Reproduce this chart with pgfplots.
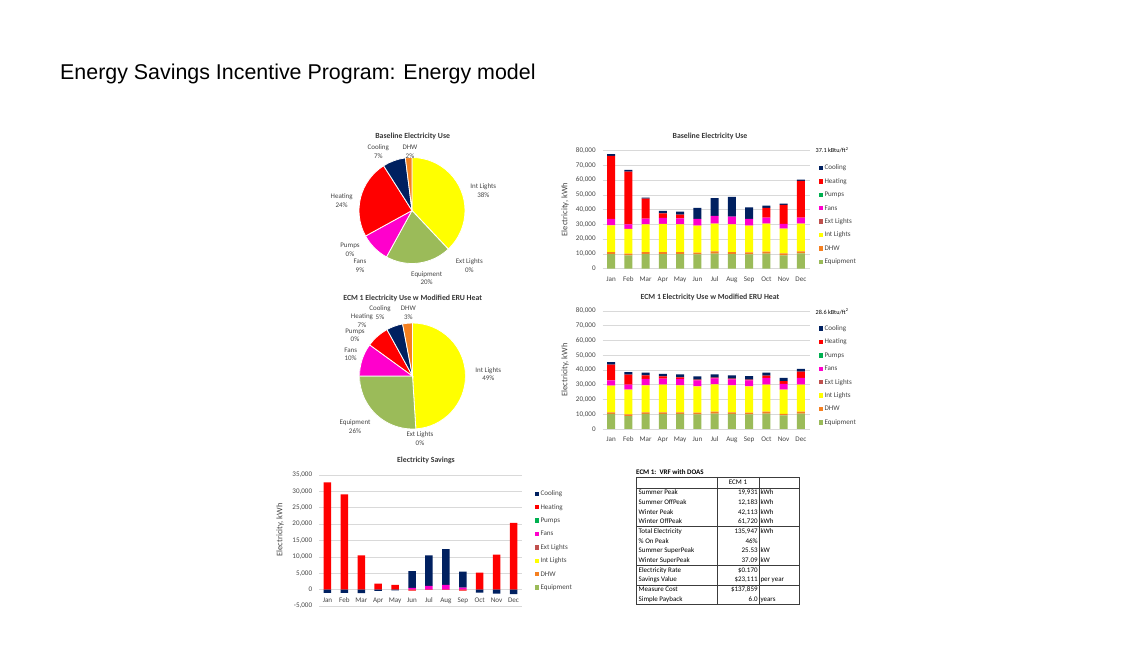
\documentclass[border=0pt]{standalone}
\usepackage{fontspec}
\setmainfont{Carlito}
\newfontfamily\arialfont{Liberation Sans}
\usepackage{pgfplots}
\usepackage{pgfplotstable}
\pgfplotsset{compat=1.18}

\definecolor{cCool}{RGB}{0,32,96}
\definecolor{cHeat}{RGB}{255,0,0}
\definecolor{cPump}{RGB}{0,176,80}
\definecolor{cFans}{RGB}{255,0,204}
\definecolor{cExtL}{RGB}{192,80,77}
\definecolor{cIntL}{RGB}{255,255,0}
\definecolor{cDHW}{RGB}{245,128,32}
\definecolor{cEquip}{RGB}{155,187,89}
\definecolor{cGrid}{RGB}{217,217,217}
\definecolor{cText}{RGB}{70,70,70}
\definecolor{cTab}{RGB}{60,60,60}

\newcommand\chf{\fontsize{7.1bp}{8.6bp}\selectfont}
\newcommand\ttf{\bfseries\fontsize{7.8bp}{9bp}\selectfont}

\pgfplotstableread{
m equip dhw intl extl fans pumps heat cool
0 9900 1400 18080 0 4290 0 42710 1120
1 9040 1130 16720 0 3170 0 35700 1130
2 9940 1360 18760 0 3840 0 13560 680
3 9940 1360 18980 0 4070 0 3160 1590
4 9940 1360 18760 0 4060 0 2490 2030
5 9720 1130 18300 0 4520 0 0 7460
6 10170 1580 18750 0 5210 0 0 11970
7 9940 1360 18760 0 5190 0 0 13340
8 9720 1350 18080 0 4520 0 0 7910
9 10170 1350 18980 0 4080 0 6550 1580
10 9040 1360 16720 0 3160 0 12880 910
11 10400 1350 18750 0 4080 0 24860 900
}\tblBase

\pgfplotstableread{
m equip dhw intl extl fans pumps heat cool
0 10170 1130 18080 0 3620 0 10600 1820
1 8810 1130 16730 0 3390 0 6780 1800
2 10170 1130 18300 0 4300 0 2480 1810
3 10170 1130 18760 0 4060 0 1580 1590
4 10170 1130 18300 0 4300 0 1130 2030
5 9940 1130 17860 0 4070 0 450 2260
6 10400 1350 18530 0 4070 0 450 2260
7 10170 1130 18300 0 4070 0 450 2260
8 9940 1130 17860 0 4070 0 450 2480
9 10400 1350 18310 0 4520 0 1580 2030
10 9270 900 16500 0 3840 0 2030 2040
11 10400 1350 18310 0 4520 0 4290 1810
}\tblECM

\pgfplotstableread{
m z fans heat cool heatn cooln
0 0 0 32760 0 0 -1000
1 0 0 29100 0 0 -1000
2 0 0 10450 0 0 -1100
3 0 0 1830 0 0 -400
4 0 0 1420 0 0 -200
5 0 500 0 5180 -300 0
6 0 1120 0 9330 -100 0
7 0 1420 0 10950 -100 0
8 0 610 0 4870 -300 0
9 0 0 5170 0 0 -900
10 0 0 10650 0 0 -1200
11 0 0 20390 0 0 -1400
}\tblSave

\pgfplotsset{
  sq/.style={draw=none, legend image code/.code={\fill[##1] (0bp,-2.2bp) rectangle (4.4bp,2.2bp);}},
  barax/.style={
    scale only axis, anchor=south west,
    xmin=-0.5, xmax=11.5, xtick={0,...,11},
    xticklabels={Jan,Feb,Mar,Apr,May,Jun,Jul,Aug,Sep,Oct,Nov,Dec},
    major tick length=0pt,
    axis line style={draw=none},
    ymajorgrids, grid style={cGrid, line width=0.6bp},
    scaled y ticks=false,
    /pgf/number format/assume math mode=true,
    /pgf/number format/1000 sep={,},
    /pgf/number format/fixed,
    tick label style={font=\chf, text=cText},
    xticklabel style={yshift=-4bp, text height=5bp, text depth=1.4bp},
    yticklabel style={xshift=-3.3bp},
    ybar stacked, bar width=8bp,
    reverse legend, legend cell align=left,
    legend style={anchor=north west, draw=none, fill=none, inner sep=0pt,
      row sep=5.2bp, column sep=0.8bp, font=\chf,
      nodes={inner sep=0.6bp, text height=5.4bp, text depth=1.6bp, text=cText}},
  },
  pieax/.style={scale only axis, anchor=center, width=106bp, height=106bp,
    xmin=-1, xmax=1, ymin=-1, ymax=1, hide axis},
}

% pie slice: start percent, percent, colour
\newcommand\slice[3]{\fill[#3, draw=white, line width=0.8bp] (axis cs:0,0) --
  (axis cs:{cos(90-3.6*#1)},{sin(90-3.6*#1)})
  arc[start angle={90-3.6*#1}, end angle={90-3.6*(#1+#2)}, radius=53bp] -- cycle;}

\newcommand\stackplots[1]{%
  \addplot[fill=cEquip, sq] table[x=m, y=equip]{#1}; \addlegendentry{Equipment}
  \addplot[fill=cDHW, sq] table[x=m, y=dhw]{#1}; \addlegendentry{DHW}
  \addplot[fill=cIntL, sq] table[x=m, y=intl]{#1}; \addlegendentry{Int Lights}
  \addplot[fill=cExtL, sq] table[x=m, y=extl]{#1}; \addlegendentry{Ext Lights}
  \addplot[fill=cFans, sq] table[x=m, y=fans]{#1}; \addlegendentry{Fans}
  \addplot[fill=cPump, sq] table[x=m, y=pumps]{#1}; \addlegendentry{Pumps}
  \addplot[fill=cHeat, sq] table[x=m, y=heat]{#1}; \addlegendentry{Heating}
  \addplot[fill=cCool, sq] table[x=m, y=cool]{#1}; \addlegendentry{Cooling}
}

\begin{document}
\begin{tikzpicture}
\fill[white] (0,0) rectangle (1147bp,645bp);
\path[use as bounding box] (0,0) rectangle (1147bp,645bp);

% ---------- Pie 1 ----------
\begin{axis}[pieax, at={(412bp,434.5bp)}]
\slice{0}{38}{cIntL}
\slice{38}{20}{cEquip}
\slice{58}{9}{cFans}
\slice{67}{24}{cHeat}
\slice{91}{7}{cCool}
\slice{98}{2}{cDHW}
\end{axis}

% ---------- Pie 2 ----------
\begin{axis}[pieax, at={(412.5bp,269bp)}]
\slice{0}{49}{cIntL}
\slice{49}{26}{cEquip}
\slice{75}{10}{cFans}
\slice{85}{7}{cHeat}
\slice{92}{5}{cCool}
\slice{97}{3}{cDHW}
\end{axis}

% ---------- Baseline bars ----------
\begin{axis}[barax, at={(602.5bp,376.3bp)}, width=207bp, height=118.2bp,
  ymin=0, ymax=80000, ytick={0,10000,...,80000},
  legend style={at={(axis description cs:1.0435,0.889)}}]
\stackplots{\tblBase}
\end{axis}

% ---------- ECM bars ----------
\begin{axis}[barax, at={(602.5bp,216bp)}, width=207bp, height=118bp,
  ymin=0, ymax=80000, ytick={0,10000,...,80000},
  legend style={at={(axis description cs:1.0435,0.888)}}]
\stackplots{\tblECM}
\end{axis}

% ---------- Savings (positive parts) ----------
\begin{axis}[barax, at={(319bp,39bp)}, width=203bp, height=131bp,
  ymin=-5000, ymax=35000, ytick={-5000,0,...,35000}, bar width=7.5bp,
  xticklabel style={yshift=16.4bp},
  legend style={at={(axis description cs:1.0616,0.889)}}]
  \addplot[fill=cEquip, sq] table[x=m, y=z]{\tblSave}; \addlegendentry{Equipment}
  \addplot[fill=cDHW, sq] table[x=m, y=z]{\tblSave}; \addlegendentry{DHW}
  \addplot[fill=cIntL, sq] table[x=m, y=z]{\tblSave}; \addlegendentry{Int Lights}
  \addplot[fill=cExtL, sq] table[x=m, y=z]{\tblSave}; \addlegendentry{Ext Lights}
  \addplot[fill=cFans, sq] table[x=m, y=fans]{\tblSave}; \addlegendentry{Fans}
  \addplot[fill=cPump, sq] table[x=m, y=z]{\tblSave}; \addlegendentry{Pumps}
  \addplot[fill=cHeat, sq] table[x=m, y=heat]{\tblSave}; \addlegendentry{Heating}
  \addplot[fill=cCool, sq] table[x=m, y=cool]{\tblSave}; \addlegendentry{Cooling}
\end{axis}
% ---------- Savings (negative parts) ----------
\begin{axis}[scale only axis, anchor=south west, at={(319bp,39bp)}, width=203bp, height=131bp,
  xmin=-0.5, xmax=11.5, ymin=-5000, ymax=35000, hide axis,
  ybar stacked, bar width=7.5bp]
  \addplot[fill=cHeat, draw=none] table[x=m, y=heatn]{\tblSave};
  \addplot[fill=cCool, draw=none] table[x=m, y=cooln]{\tblSave};
\end{axis}

% ---------- Texts (pixel coordinates) ----------
\begin{scope}[x=1bp, y=-1bp, shift={(0bp,645bp)}]
\node[anchor=base west, inner sep=0pt, font=\arialfont\fontsize{21.4bp}{24bp}\selectfont] at (60,80)
  {Energy Savings Incentive Program: Energy model};

% titles
\node[font=\ttf, text=cText!80!black] at (412.7,136.7) {Baseline Electricity Use};
\node[font=\ttf, text=cText!80!black] at (412.7,298.3) {ECM 1 Electricity Use w Modified ERU Heat};
\node[font=\ttf, text=cText!80!black] at (710,136.7) {Baseline Electricity Use};
\node[font=\ttf, text=cText!80!black] at (710,297.3) {ECM 1 Electricity Use w Modified ERU Heat};
\node[font=\ttf, text=cText!80!black] at (426,460) {Electricity Savings};

% y labels
\node[rotate=90, font=\fontsize{8.5bp}{9bp}\selectfont, text=cText] at (565,209.6) {Electricity, kWh};
\node[rotate=90, font=\fontsize{8.5bp}{9bp}\selectfont, text=cText] at (565,370) {Electricity, kWh};
\node[rotate=90, font=\fontsize{8.5bp}{9bp}\selectfont, text=cText] at (280,530) {Electricity, kWh};

% kBtu annotations
\node[anchor=west, inner sep=0pt, font=\fontsize{6.2bp}{7bp}\selectfont, text=black] at (815.5,150) {37.1 kBtu/ft\textsuperscript{2}};
\node[anchor=west, inner sep=0pt, font=\fontsize{6.2bp}{7bp}\selectfont, text=black] at (815.5,311.7) {28.6 kBtu/ft\textsuperscript{2}};

% pie labels
\begin{scope}[every node/.style={align=center, inner sep=0pt, font=\fontsize{7bp}{8.8bp}\selectfont, text=cText}]
\node at (378.3,152) {Cooling\\7\%};
\node at (410,152) {DHW\\2\%};
\node at (483.3,190.5) {Int Lights\\38\%};
\node at (341.7,200.5) {Heating\\24\%};
\node at (350,249.5) {Pumps\\0\%};
\node at (360,265.7) {Fans\\9\%};
\node at (426.7,278.2) {Equipment\\20\%};
\node at (469.3,266) {Ext Lights\\0\%};

\node at (380,312.3) {Cooling\\5\%};
\node at (408.3,312.5) {DHW\\3\%};
\node at (362,320.3) {Heating\\7\%};
\node at (355,335.2) {Pumps\\0\%};
\node at (350.7,354.2) {Fans\\10\%};
\node at (488.3,374.2) {Int Lights\\49\%};
\node at (355,426.7) {Equipment\\26\%};
\node at (420,438.5) {Ext Lights\\0\%};
\end{scope}

% table
\node[anchor=west, inner sep=0pt, font=\bfseries\fontsize{7bp}{8bp}\selectfont] at (636,472) {ECM 1:\ \ VRF with DOAS};
\draw[cTab, line width=0.8bp] (636,477) rectangle (799,604.4);
\foreach \yy in {488,526.8,565.6,585} \draw[cTab, line width=0.7bp] (636,\yy) -- (799,\yy);
\draw[cTab, line width=0.7bp] (717,477) -- (717,604.4);
\draw[cTab, line width=0.7bp] (759,477) -- (759,604.4);
\node[font=\fontsize{7bp}{8bp}\selectfont, inner sep=0pt] at (738,482.5) {ECM 1};
\begin{scope}[every node/.style={inner sep=0pt, font=\fontsize{7bp}{8bp}\selectfont, text height=5bp, text depth=1.4bp}]
\foreach \lab/\val/\unit [count=\i from 0] in {
  {Summer Peak}/{19,931}/{kWh},
  {Summer OffPeak}/{12,183}/{kWh},
  {Winter Peak}/{42,113}/{kWh},
  {Winter OffPeak}/{61,720}/{kWh},
  {Total Electricity}/{135,947}/{kWh},
  {\% On Peak}/{46\%}/{},
  {Summer SuperPeak}/{25.53}/{kW},
  {Winter SuperPeak}/{37.09}/{kW},
  {Electricity Rate}/{\$0.170}/{},
  {Savings Value}/{\$23,111}/{per year},
  {Measure Cost}/{\$137,859}/{},
  {Simple Payback}/{6.0}/{years}} {
  \pgfmathsetmacro\yy{488+9.7*(\i+0.5)}
  \node[anchor=west] at (638.5,\yy) {\lab};
  \node[anchor=east] at (757.8,\yy) {\val};
  \node[anchor=west] at (760.3,\yy) {\unit};
}
\end{scope}
\end{scope}
\end{tikzpicture}
\end{document}
